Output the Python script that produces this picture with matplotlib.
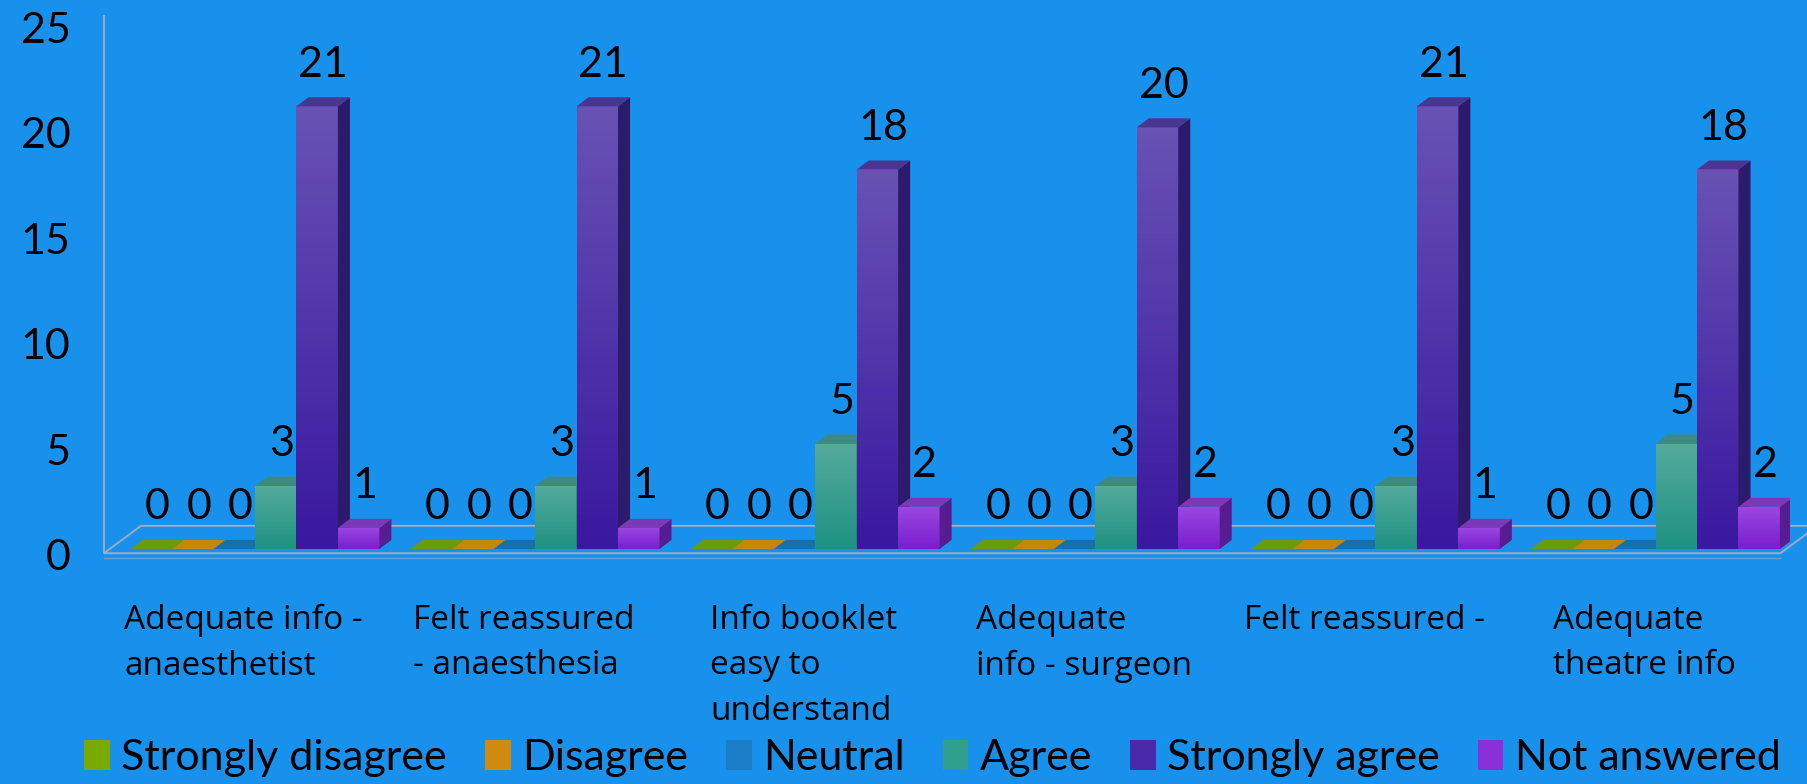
import numpy as np
import matplotlib
matplotlib.use("Agg")
import matplotlib.pyplot as plt
from matplotlib.patches import Polygon, Patch
from matplotlib.colors import LinearSegmentedColormap
import matplotlib.transforms as mtransforms

# ---- data ----
categories = [
    "Adequate info -\nanaesthetist",
    "Felt reassured\n- anaesthesia",
    "Info booklet\neasy to\nunderstand",
    "Adequate\ninfo - surgeon",
    "Felt reassured -",
    "Adequate\ntheatre info",
]
series_names = ["Strongly disagree", "Disagree", "Neutral", "Agree",
                "Strongly agree", "Not answered"]
strongly_disagree = [0, 0, 0, 0, 0, 0]
disagree = [0, 0, 0, 0, 0, 0]
neutral = [0, 0, 0, 0, 0, 0]
agree = [3, 3, 5, 3, 3, 5]
strongly_agree = [21, 21, 18, 20, 21, 18]
not_answered = [1, 1, 2, 2, 1, 2]
y_ticks = [0, 5, 10, 15, 20, 25]

series_values = [strongly_disagree, disagree, neutral, agree,
                 strongly_agree, not_answered]

# (front top, front bottom, top face, side face, legend)
palette = [
    ("#7aa818", "#5e9000", "#6a9a10", "#4a7400", "#79aa00"),
    ("#d89a30", "#c47f00", "#c8850c", "#8f5c00", "#d08a10"),
    ("#2a84c8", "#1268a8", "#1670b0", "#0e4f80", "#1b7cc8"),
    ("#55aa9c", "#1e9282", "#3f8a80", "#1a6a60", "#2f9f8e"),
    ("#6852b4", "#3a18a0", "#4a3690", "#2c1a6a", "#4a2aa8"),
    ("#9a48e0", "#7a1ed0", "#7a3ab8", "#561c90", "#8a30d8"),
]

bg = "#1891ED"
text_font = ["Lato", "DejaVu Sans"]
label_font = ["Open Sans", "DejaVu Sans"]

fig = plt.figure(figsize=(18.07, 7.84), dpi=100)
fig.patch.set_facecolor(bg)
ax = fig.add_axes([104 / 1807, 235 / 784, (1790 - 104) / 1807, 527 / 784])
ax.set_facecolor(bg)
for s in ax.spines.values():
    s.set_visible(False)

xl, xr = -0.539, 5.48
ax.set_xlim(xl, xr)
ax.set_ylim(0, 25)

w = 0.148          # bar width (data units)
dx, dy = 0.043, 0.43   # 3D depth offsets

# floor plate and back wall
floor_front, floor_back = -0.2, 1.1
floor_right = 5.446
shift = 0.132
edge = "#9fa9c4"
floor = Polygon([(xl, floor_front), (floor_right, floor_front),
                 (floor_right + shift, floor_back), (xl + shift, floor_back)],
                closed=True, facecolor="none", edgecolor=edge, lw=1.4,
                clip_on=False, zorder=1)
ax.add_patch(floor)
ax.plot([xl, floor_right], [floor_front - 0.25, floor_front - 0.25],
        color=edge, lw=1.0, alpha=0.6, clip_on=False, zorder=1)
ax.plot([xl, xl], [floor_front, 25.3], color=edge, lw=1.4,
        clip_on=False, zorder=1)

x = np.arange(len(categories))
z = 2
for j, vals in enumerate(series_values):
    ftop, fbot, ctop, cside, _ = palette[j]
    bars = ax.bar(x + (j - 3) * w, vals, width=w, align="edge",
                  color=fbot, linewidth=0, zorder=z)
    cmap = LinearSegmentedColormap.from_list(f"g{j}", [fbot, ftop])
    for b, v in zip(bars, vals):
        x0 = b.get_x()
        h = b.get_height()
        zz = z + 3 * (b.get_x() - xl)
        b.set_zorder(zz)
        if h > 0:
            grad = np.linspace(0, 1, 64).reshape(-1, 1)
            im = ax.imshow(grad, extent=[x0, x0 + w, 0, h], origin="lower",
                           aspect="auto", cmap=cmap, zorder=zz + 0.1)
            im.set_clip_path(b)
            side = Polygon([(x0 + w, 0), (x0 + w + dx, dy),
                            (x0 + w + dx, h + dy), (x0 + w, h)],
                           closed=True, facecolor=cside, lw=0,
                           zorder=zz + 0.2)
            ax.add_patch(side)
        top = Polygon([(x0, h), (x0 + w, h), (x0 + w + dx, h + dy),
                       (x0 + dx, h + dy)], closed=True, facecolor=ctop,
                      lw=0, zorder=zz + 0.2)
        ax.add_patch(top)
        ax.annotate(str(v), (x0 + w / 2 + dx / 2, h), xytext=(0, 30),
                    textcoords="offset points", ha="center", va="center",
                    fontsize=31, family=text_font, color="black",
                    zorder=100)

ax.set_xlim(xl, xr)
ax.set_ylim(0, 25)

ax.set_yticks(y_ticks)
ax.set_yticklabels([str(t) for t in y_ticks], family=text_font, fontsize=31)
ax.tick_params(axis="y", length=0, pad=24, colors="black")
down = mtransforms.ScaledTranslation(0, -4 / 72, fig.dpi_scale_trans)
for lab in ax.get_yticklabels():
    lab.set_transform(lab.get_transform() + down)
ax.set_xticks([])

# category labels under the floor
trans = mtransforms.blended_transform_factory(ax.transData, fig.transFigure)
for i, cat in enumerate(categories):
    ax.text(i - 0.04, 1 - 604 / 784, cat, transform=trans, ha="center",
            va="top", multialignment="left", fontsize=24,
            family=label_font, linespacing=1.5, color="black")

handles = [Patch(facecolor=palette[j][4], edgecolor="none")
           for j in range(len(series_names))]
fig.legend(handles, series_names, loc="center", ncol=6,
           bbox_to_anchor=(0.516, 1 - 758 / 784), frameon=False,
           prop={"family": text_font, "size": 31}, handlelength=0.6,
           handleheight=0.72, handletextpad=0.26, columnspacing=0.88,
           labelcolor="black", borderpad=0.1)

fig.savefig("out.png", dpi=100, facecolor=bg)
